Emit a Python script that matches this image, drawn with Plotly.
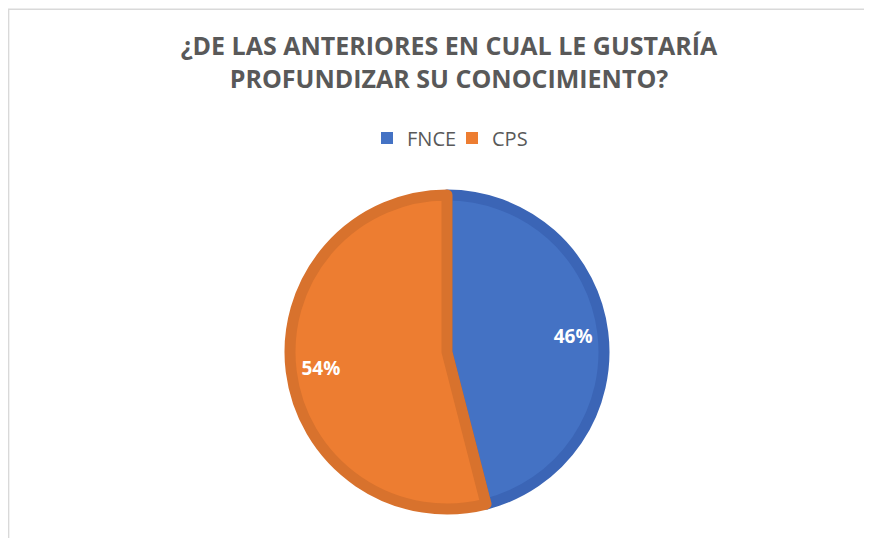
"""Pie chart: ¿De las anteriores en cual le gustaría profundizar su conocimiento?"""

import plotly.graph_objects as go

labels = ["FNCE", "CPS"]
values = [46, 54]
fill_colors = ["#4472C4", "#ED7D31"]
edge_colors = ["#3B65B6", "#D8722D"]

TITLE = "¿DE LAS ANTERIORES EN CUAL LE GUSTARÍA<br>PROFUNDIZAR SU CONOCIMIENTO?"

# page body adds an 8px margin, so the figure is a bit smaller than the window
W, H = 864, 530
CX, CY, R = 439, 344, 157
PIE_DOMAIN = dict(x=[(CX - R) / W, (CX + R) / W], y=[(H - CY - R) / H, (H - CY + R) / H])

fig = go.Figure()
fig.add_trace(
    go.Pie(
        labels=labels,
        values=values,
        sort=False,
        direction="clockwise",
        rotation=0,
        marker=dict(colors=fill_colors, line=dict(color=edge_colors, width=11)),
        textinfo="none",
        domain=PIE_DOMAIN,
        hoverinfo="label+percent",
        showlegend=False,
    )
)

# invisible ring on top, only to set the percent labels out towards the rim
fig.add_trace(
    go.Pie(
        labels=labels,
        values=values,
        sort=False,
        direction="clockwise",
        rotation=0,
        hole=0.62,
        marker=dict(colors=["rgba(0,0,0,0)"] * len(labels), line=dict(width=0)),
        texttemplate="%{percent:.0%}",
        textposition="inside",
        insidetextorientation="horizontal",
        textfont=dict(family="Open Sans", size=19, color="white", weight="bold"),
        domain=PIE_DOMAIN,
        hoverinfo="skip",
        showlegend=False,
    )
)

# plain square legend keys, like the original
for name, color in zip(labels, fill_colors):
    fig.add_trace(
        go.Scatter(
            x=[None],
            y=[None],
            mode="markers",
            name=name,
            marker=dict(symbol="square", size=12, color=color),
            hoverinfo="skip",
        )
    )

fig.update_layout(
    width=W,
    height=H,
    margin=dict(l=0, r=0, t=0, b=0),
    paper_bgcolor="white",
    plot_bgcolor="white",
    font=dict(family="Open Sans", color="#595959"),
    xaxis=dict(visible=False),
    yaxis=dict(visible=False),
    title=dict(
        text=TITLE,
        x=441 / W,
        xanchor="center",
        y=1 - 47 / H,
        yanchor="top",
        font=dict(family="Open Sans", size=25, color="#595959", weight="bold"),
    ),
    showlegend=True,
    legend=dict(
        orientation="h",
        x=444 / W,
        xanchor="center",
        y=1 - 130 / H,
        yanchor="middle",
        font=dict(family="Open Sans", size=20, color="#595959"),
        itemwidth=30,
        entrywidth=40,
        entrywidthmode="pixels",
        tracegroupgap=0,
    ),
    shapes=[
        dict(
            type="rect",
            xref="paper",
            yref="paper",
            x0=0.6 / W,
            x1=1.05,
            y0=-0.05,
            y1=1 - 1.2 / H,
            line=dict(color="#D9D9D9", width=1.5),
            layer="below",
        )
    ],
)

fig.write_html("out.html")
